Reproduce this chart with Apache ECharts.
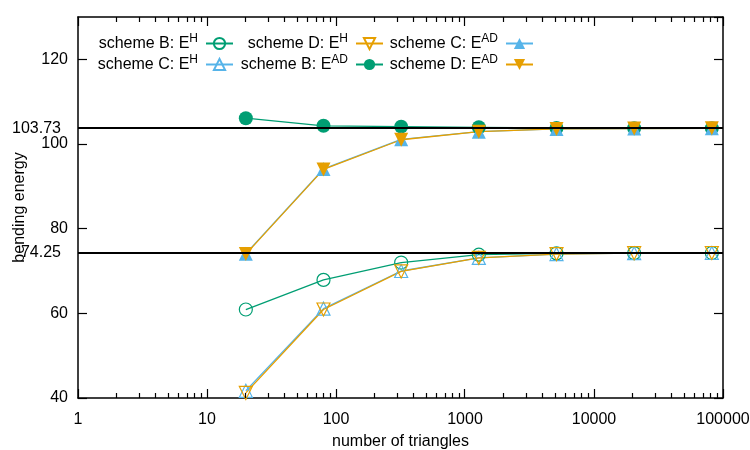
<!DOCTYPE html>
<html>
<head>
<meta charset="utf-8">
<script src="https://cdn.jsdelivr.net/npm/echarts@6/dist/echarts.min.js"></script>
<style>html,body{margin:0;padding:0;background:#fff;}#c{width:750px;height:450px;}</style>
</head>
<body>
<div id="c"></div>
<script>
// ---- data ----
const triangles = [20, 80, 320, 1280, 5120, 20480, 81920];
const schemeB_EH  = [60.9, 67.9, 72.0, 73.85, 74.15, 74.22, 74.25];
const schemeC_EH  = [41.7, 61.1, 70.0, 73.1, 74.0, 74.2, 74.25];
const schemeD_EH  = [41.2, 60.9, 69.9, 73.1, 74.0, 74.2, 74.25];
const schemeB_EAD = [106.1, 104.3, 104.1, 103.95, 103.78, 103.75, 103.74];
const schemeC_EAD = [74.1, 94.1, 101.1, 102.9, 103.55, 103.65, 103.7];
const schemeD_EAD = [74.0, 94.0, 101.0, 102.9, 103.55, 103.65, 103.7];
const refLines = [103.73, 74.25];
const refLabels = ['103.73', '74.25'];
const xMajorTicks = [1, 10, 100, 1000, 10000, 100000];
const xMinorTicks = [2,3,4,5,6,7,8,9, 20,30,40,50,60,70,80,90, 200,300,400,500,600,700,800,900,
  2000,3000,4000,5000,6000,7000,8000,9000, 20000,30000,40000,50000,60000,70000,80000,90000];
const names = ['scheme B: E^H','scheme C: E^H','scheme D: E^H','scheme B: E^AD','scheme C: E^AD','scheme D: E^AD'];

const GREEN = '#009e73', BLUE = '#56b4e9', ORANGE = '#e69f00';
const FONT = 'Liberation Sans, Arial, Helvetica, sans-serif';
const FS = 16;
const Y_MIN = 40, Y_MAX = 130;

function pts(ys){ return triangles.map((x,i)=>[x, ys[i]]); }

function mkSeries(name, ys, color, symbol, rotate, filled, size){
  return {
    name, type:'line', data: pts(ys), symbol, symbolSize: size, symbolRotate: rotate,
    showAllSymbol: true, clip: false,
    lineStyle: {color, width: 1.3},
    itemStyle: filled ? {color, borderColor: color, borderWidth: 0}
                      : {color: 'rgba(255,255,255,0)', borderColor: color, borderWidth: 1.2},
    emphasis: {disabled: true}
  };
}

// x-axis ticks (bottom and top, pointing inward), placed through the axis scale
function xTickSeries(values, len){
  const data = [];
  values.forEach(v => { data.push([v, Y_MIN, -1]); data.push([v, Y_MAX, 1]); });
  return {
    type:'custom', name: 'xticks' + len, silent: true, z: 50, zlevel: 1, clip: false,
    coordinateSystem: 'cartesian2d', encode: {x: 0, y: 1},
    data,
    renderItem: function (params, api) {
      const p = api.coord([api.value(0), api.value(1)]);
      const x = Math.round(p[0] - 0.5) + 0.5;
      return {type:'line', shape:{x1:x, y1:p[1], x2:x, y2:p[1] + api.value(2) * len},
              style:{stroke:'#000', lineWidth:1.2}};
    }
  };
}

const series = [
  mkSeries(names[0], schemeB_EH, GREEN, 'circle', 0, false, 13),
  mkSeries(names[1], schemeC_EH, BLUE, 'triangle', 0, false, 13),
  mkSeries(names[2], schemeD_EH, ORANGE, 'triangle', 180, false, 13),
  mkSeries(names[3], schemeB_EAD, GREEN, 'circle', 0, true, 14),
  mkSeries(names[4], schemeC_EAD, BLUE, 'triangle', 0, true, 14),
  mkSeries(names[5], schemeD_EAD, ORANGE, 'triangle', 180, true, 14),
  {
    type:'line', data: [], silent: true, z: 10,
    markLine: {
      silent: true, symbol: ['none','none'], animation: false,
      lineStyle: {color:'#000', width: 2, type:'solid'},
      label: {show: true, position: 'start', distance: 17, color:'#000', fontSize: FS, fontFamily: FONT,
              formatter: p => refLabels[refLines.indexOf(p.value)]},
      data: refLines.map(v => ({yAxis: v}))
    }
  },
  xTickSeries(xMajorTicks, 9),
  xTickSeries(xMinorTicks, 5)
];

// legend layout: [name index, right, top]
const legendPos = [
  [0, 516, 33], [1, 516, 54],
  [2, 366, 33], [3, 366, 54],
  [4, 216, 33], [5, 216, 54]
];
const rich = {
  b: {fontSize: FS, color:'#000', fontFamily: FONT},
  s: {fontSize: 12, color:'#000', fontFamily: FONT, padding:[0,0,9,0]}
};
const legends = legendPos.map(([i, r, t]) => ({
  data: [names[i]], right: r, top: t, align: 'right', itemWidth: 27, itemHeight: 14, itemGap: 0,
  selectedMode: false, padding: 0,
  formatter: n => { const [a, s] = n.split('^'); return '{b|' + a + '}{s|' + s + '}'; },
  textStyle: {rich, padding: [0, 3, 0, 0]}
}));

const axisCommonText = {color:'#000', fontSize: FS, fontFamily: FONT};
const frameLine = () => ({show: true, onZero: false, lineStyle:{color:'#000', width: 1.5}});
const majorTick = () => ({show: true, inside: true, length: 9, lineStyle:{color:'#000', width: 1.2}});

const option = {
  animation: false,
  backgroundColor: '#fff',
  grid: {left: 78, right: 27, top: 17, bottom: 52, outerBoundsMode: 'none', containLabel: false},
  legend: legends,
  xAxis: [{
    type:'log', logBase: 10, min: 1, max: 100000,
    name: 'number of triangles', nameLocation: 'middle', nameGap: 36, nameMoveOverlap: false,
    nameTextStyle: axisCommonText,
    axisLine: frameLine(), axisTick: {show: false},
    axisLabel: {...axisCommonText, margin: 14, formatter: v => String(Math.round(v))},
    splitLine: {show: false}
  }, {
    type:'log', logBase: 10, min: 1, max: 100000, position: 'top',
    axisLine: frameLine(), axisTick: {show: false},
    axisLabel: {show: false}, splitLine: {show: false}
  }],
  yAxis: [{
    type:'value', min: Y_MIN, max: Y_MAX, interval: 20,
    name: 'bending energy', nameLocation: 'middle', nameGap: 50, nameRotate: 90, nameMoveOverlap: false,
    nameTextStyle: axisCommonText,
    axisLine: frameLine(), axisTick: majorTick(),
    axisLabel: {...axisCommonText, margin: 10, showMaxLabel: false, padding: [3,0,0,0]},
    splitLine: {show: false}
  }, {
    type:'value', min: Y_MIN, max: Y_MAX, interval: 20, position: 'right',
    axisLine: frameLine(), axisTick: majorTick(),
    axisLabel: {show: false}, splitLine: {show: false}
  }],
  series
};

const chart = echarts.init(document.getElementById('c'), null, {renderer:'canvas'});
chart.setOption(option);
</script>
</body>
</html>
